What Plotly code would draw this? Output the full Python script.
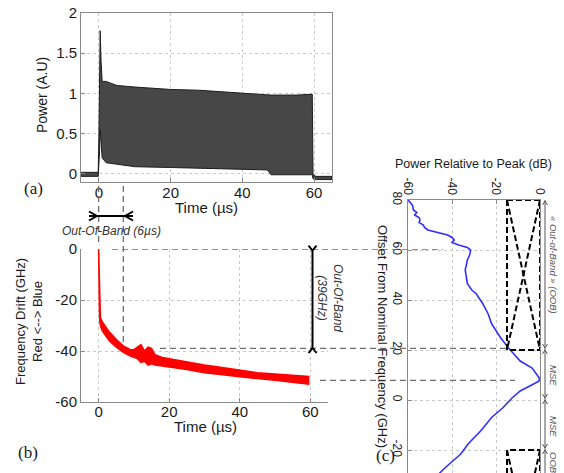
import plotly.graph_objects as go

W, H = 564, 473

# ---------------- data ----------------
# (a) pulse power envelope (A.U) vs time (us)
a_time = [-5, -0.2, 0.0, 0.2, 0.35, 0.6, 0.9, 2, 5, 10, 20, 28, 40, 47, 48, 55, 59.5, 59.7, 60.5, 65]
a_upper = [0.02, 0.02, 0.5, 1.4, 1.78, 1.4, 1.15, 1.15, 1.1, 1.08, 1.05, 1.04, 1.0, 0.98, 0.98, 0.98, 0.99, 0.0, -0.03, -0.03]
a_lower = [-0.03, -0.03, -0.02, 0.3, 0.55, 0.35, 0.2, 0.14, 0.12, 0.09, 0.08, 0.07, 0.06, 0.05, -0.01, -0.01, -0.01, -0.06, -0.07, -0.07]

# (b) frequency drift band (GHz) vs time (us)
b_time = [0, 0.1, 0.2, 0.3, 0.5, 1, 2, 3, 5, 7, 9, 10, 11, 12, 13, 14, 15, 16, 18, 20, 25, 30, 35, 40, 45, 50, 55, 59.5]
b_upper = [0, -8, -18, -25, -27, -28.5, -30.5, -32.5, -35.5, -38, -39.5, -39.5, -38.5, -37.5, -40, -38.5, -39, -41.5, -42.5, -43, -44.5, -45.5, -46.5, -47.5, -48.5, -49, -49.5, -50]
b_lower = [0, -12, -22, -28, -30, -32, -34, -36, -38.5, -40.5, -42, -42.5, -43, -44.5, -44, -45.5, -45, -45.5, -46, -46.2, -47.3, -48.5, -49.3, -50, -50.8, -51.5, -52.2, -53]

# (c) spectrum: offset (GHz) vs power relative to peak (dB)
c_offset = [80, 78, 76, 75, 74, 73, 72, 71, 70, 69, 68, 67, 66, 65, 64, 63, 62, 61, 60, 58, 56, 52, 48, 46.5,
            44, 42.5, 38.5, 34.5, 30.5, 25, 21, 17, 15.6, 12.8, 10, 8.8, 7.5, 6.4, 5, 3.6, 0.8, -3.2, -7,
            -12.4, -17.6, -21.6, -27, -30]
c_power = [-60, -58, -57.5, -56, -57, -55, -54.5, -55, -53, -52.5, -51, -47, -42, -40, -39, -40, -37, -33, -31.5,
           -32, -33, -34, -33.5, -33, -31, -29, -26, -23.6, -22, -18, -14.5, -10.5, -9, -3.6, -1, -0.3, -0.5,
           -3, -6, -9, -12.7, -17, -22, -27, -32.7, -36, -43, -46.5]

# spectral masks (dB, GHz)
mask_oob_db = [-15, 0, 0, -15, -15, None, -15, 0, None, 0, -15]
mask_oob_ghz = [80, 80, 20, 20, 80, None, 80, 20, None, 80, 20]
mask_low_db = [-15, -15, 0, 0, None, -15, 0, None, 0, -15]
mask_low_ghz = [-80, -20, -20, -80, None, -20, -80, None, -20, -80]

# guide values
oob_time = 7          # us
drift_marks = [0, -39, -51.5]   # GHz

a_xticks = [0, 20, 40, 60]
a_yticks = [0, 0.5, 1, 1.5, 2]
a_yticktext = ["0", "0.5", "1", "1.5", "2"]
b_yticks = [0, -20, -40, -60]
b_yticktext = ["0", "-20", "-40", "-60"]
c_xticks = [-60, -40, -20, 0]
c_xticktext = ["-60", "-40", "-20", "0"]
c_yticks = [80, 60, 40, 20, 0, -20]
c_yticktext = ["80", "60", "40", "20", "0", "-20"]

# ---------------- helpers ----------------
def fx(px):
    return px / W

def fy(py):
    return 1 - py / H

FONT = "Arial, Liberation Sans, sans-serif"
GRID = "#c8c8c8"
AXC = "#8a8a8a"

fig = go.Figure()

# (a) power band
fig.add_trace(go.Scatter(
    x=a_time + a_time[::-1], y=a_upper + a_lower[::-1],
    fill="toself", fillcolor="#474747", mode="lines",
    line=dict(color="#1e1e1e", width=1), xaxis="x", yaxis="y", hoverinfo="skip"))

# (b) drift band
fig.add_trace(go.Scatter(
    x=b_time + b_time[::-1], y=b_upper + b_lower[::-1],
    fill="toself", fillcolor="#ff0000", mode="lines",
    line=dict(color="#ff0000", width=1.5), xaxis="x2", yaxis="y2", hoverinfo="skip"))

# (c) spectrum + masks
fig.add_trace(go.Scatter(x=c_power, y=c_offset, mode="lines",
                         line=dict(color="#2f2fff", width=1.6), xaxis="x3", yaxis="y3"))
fig.add_trace(go.Scatter(x=mask_oob_db, y=mask_oob_ghz, mode="lines",
                         line=dict(color="black", width=2, dash="6px,3px"), xaxis="x3", yaxis="y3"))
fig.add_trace(go.Scatter(x=mask_low_db, y=mask_low_ghz, mode="lines",
                         line=dict(color="black", width=2, dash="6px,3px"), xaxis="x3", yaxis="y3"))


def axis(size=15, **kw):
    d = dict(showgrid=True, gridcolor=GRID, griddash="dot", gridwidth=1, zeroline=False,
             showline=True, linecolor=AXC, linewidth=1, ticks="inside", ticklen=4, tickcolor=AXC,
             automargin=False, tickmode="array",
             tickfont=dict(size=size, family=FONT, color="#1a1a1a"))
    d.update(kw)
    return d


fig.update_layout(
    template="none",
    width=W, height=H, autosize=False, margin=dict(l=0, r=0, t=0, b=0, pad=0),
    paper_bgcolor="white", plot_bgcolor="white", showlegend=False,
    font=dict(family=FONT, size=14, color="#1a1a1a"),
    xaxis=axis(domain=[fx(81), fx(332)], range=[-5, 65], tickvals=a_xticks, anchor="y", mirror=True,
               ticklabelstandoff=-3),
    yaxis=axis(domain=[fy(182), fy(13)], range=[-0.1, 2], tickvals=a_yticks, ticktext=a_yticktext,
               anchor="x", mirror=True),
    xaxis2=axis(domain=[fx(81), fx(328)], range=[-5, 65], tickvals=a_xticks, anchor="y2",
                ticklabelstandoff=-4),
    yaxis2=axis(domain=[fy(402), fy(249)], range=[-60, 0], tickvals=b_yticks, ticktext=b_yticktext,
                anchor="x2"),
    xaxis3=axis(size=12, domain=[fx(408), fx(540)], range=[-60, 0], tickvals=c_xticks,
                ticktext=c_xticktext, anchor="y3", side="top", tickangle=90, mirror=True),
    yaxis3=axis(size=12, domain=[0, fy(200)], range=[-29.2, 80], tickvals=c_yticks,
                ticktext=c_yticktext, anchor="x3", tickangle=90, mirror=True),
)

shapes = []
GUIDE = dict(color="#6e6e6e", width=1.3, dash="6px,4px")

# vertical guides (time)
shapes.append(dict(type="line", xref="x2", yref="paper", x0=0, x1=0, y0=fy(186), y1=fy(243), line=GUIDE))
shapes.append(dict(type="line", xref="x2", yref="paper", x0=oob_time, x1=oob_time, y0=fy(186), y1=fy(343), line=GUIDE))
# horizontal guides (drift) spanning into panel (c)
for val, x0, x1 in zip(drift_marks, [112, 160, 320], [443, 507, 515]):
    shapes.append(dict(type="line", xref="paper", yref="y2", x0=fx(x0), x1=fx(x1), y0=val, y1=val, line=GUIDE))


def seg(x0, y0, x1, y1, color="black", width=2):
    shapes.append(dict(type="line", xref="paper", yref="paper", x0=fx(x0), y0=fy(y0), x1=fx(x1), y1=fy(y1),
                       line=dict(color=color, width=width)))


def path(points, color="black", width=2):
    d = "M " + " L ".join(f"{fx(x):.5f},{fy(y):.5f}" for x, y in points)
    shapes.append(dict(type="path", xref="paper", yref="paper", path=d, line=dict(color=color, width=width)))


# horizontal 6us dimension marker
seg(89, 216, 133, 216)
path([(89, 211.5), (97, 216), (89, 220.5)])
path([(133, 211.5), (125, 216), (133, 220.5)])

# vertical 39GHz dimension marker
seg(312.5, 250, 312.5, 348.5)
path([(308.5, 245.5), (312.5, 250.5), (316.5, 245.5)])
path([(308.5, 353), (312.5, 348), (316.5, 353)])

# panel (c) right-side range arrows
AC = "#555555"
seg(545, 200, 545, 473, color=AC, width=1)
for yb in [349, 399, 449]:
    path([(542.5, yb - 5), (545, yb - 1), (547.5, yb - 5)], color=AC, width=1)
    path([(542.5, yb + 5), (545, yb + 1), (547.5, yb + 5)], color=AC, width=1)
path([(542.5, 205), (545, 201), (547.5, 205)], color=AC, width=1)

fig.update_layout(shapes=shapes)


def ann(text, x, y, size, angle=0, color="#1a1a1a", family=FONT):
    return dict(text=text, x=fx(x), y=fy(y), xref="paper", yref="paper", showarrow=False,
                textangle=angle, xanchor="center", yanchor="middle",
                font=dict(size=size, color=color, family=family))


SERIF = "Times New Roman, Liberation Serif, serif"
annotations = [
    ann("(a)", 33, 188, 17, family=SERIF),
    ann("(b)", 28, 452, 17, family=SERIF),
    ann("(c)", 385, 455, 17, family=SERIF),
    ann("Power (A.U)", 42, 95, 14, angle=-90),
    ann("Time (µs)", 206, 207, 15),
    ann("Time (µs)", 205, 426, 15),
    ann("Frequency Drift (GHz)<br>Red &lt;--&gt; Blue", 29, 322, 13, angle=-90),
    ann("<i>Out-Of-Band (6µs)</i>", 111, 231, 12, color="#333333"),
    ann("<i>Out-Of-Band<br>(39GHz)</i>", 330, 298, 12, angle=90, color="#333333"),
    ann("Power Relative to Peak (dB)", 473, 164, 12.5),
    ann("Offset From Nominal Frequency (GHz)", 383, 336, 13, angle=90),
    ann("<i>« Out-of-Band » (OOB)</i>", 554, 265, 9.5, angle=90, color="#555555"),
    ann("<i>MSE</i>", 554, 375, 9.5, angle=90, color="#555555"),
    ann("<i>MSE</i>", 554, 426, 9.5, angle=90, color="#555555"),
    ann("<i>OOB</i>", 554, 463, 9.5, angle=90, color="#555555"),
]
fig.update_layout(annotations=annotations)

fig.write_html("out.html", config={"displayModeBar": False},
               post_script="document.body.style.margin='0px';document.body.style.overflow='hidden';")
